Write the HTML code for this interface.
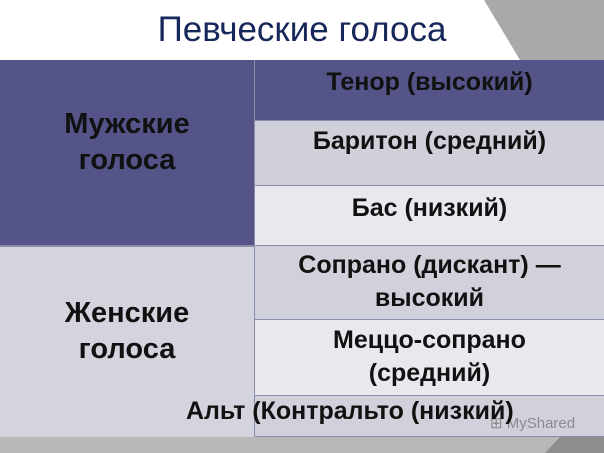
<!DOCTYPE html>
<html><head><meta charset="utf-8"><style>
body{margin:0;width:604px;height:453px;overflow:hidden;background:#fff;font-family:"Liberation Sans",sans-serif;position:relative}
.a{position:absolute;box-sizing:border-box}
.t{font-weight:bold;color:#111;text-align:center;display:flex;align-items:center;justify-content:center;line-height:1.25}
.r{font-size:25px;line-height:33px;border-left:1px solid #8a8ca8;border-top:1px solid #8a8ca8;align-items:flex-start}
</style></head><body>
<svg class="a" style="left:0;top:0" width="604" height="453">
<polygon points="484,0 604,0 604,60 520,60" fill="#a9a9ab"/>
<polygon points="0,437 604,437 604,453 0,453" fill="#b8b8ba"/>
<polygon points="560,437 604,437 604,453 545,453" fill="#8e8e90"/>
</svg>
<div class="a" style="left:0;width:604px;text-align:center;font-size:35px;color:#16275a;top:10px">Певческие голоса</div>
<div class="a t" style="left:0;top:60px;width:254px;height:185px;background:#545488;font-size:29px;line-height:36px;padding-bottom:22px">Мужские<br>голоса</div>
<div class="a t" style="left:0;top:245px;width:254px;height:192px;background:#d3d4dd;font-size:29px;line-height:36px;border-top:2px solid #8a8ca8;padding-bottom:22px">Женские<br>голоса</div>
<div class="a t r" style="left:254px;top:60px;width:350px;height:60px;background:#545488;border-top:none;padding-top:6px">Тенор (высокий)</div>
<div class="a t r" style="left:254px;top:120px;width:350px;height:65px;background:#cfd0d9;padding-top:4px">Баритон (средний)</div>
<div class="a t r" style="left:254px;top:185px;width:350px;height:60px;background:#e8e8ee;padding-top:6px">Бас (низкий)</div>
<div class="a t r" style="left:254px;top:245px;width:350px;height:74px;background:#d0d1da;padding-top:3px">Сопрано (дискант) —<br>высокий</div>
<div class="a t r" style="left:254px;top:319px;width:350px;height:76px;background:#e8e8ee;padding-top:4px">Меццо-сопрано<br>(средний)</div>
<div class="a" style="left:254px;top:395px;width:350px;height:42px;background:#d0d1da;border-left:1px solid #8a8ca8;border-top:1px solid #8a8ca8;border-bottom:1px solid #8a8ca8"></div>
<div class="a" style="left:490px;top:414px;font-size:15px;color:#8a8a90;white-space:nowrap">⊞ MyShared</div>
<div class="a" style="left:186px;top:397px;font-size:25px;font-weight:bold;color:#111;white-space:nowrap">Альт (Контральто (низкий)</div>
</body></html>
